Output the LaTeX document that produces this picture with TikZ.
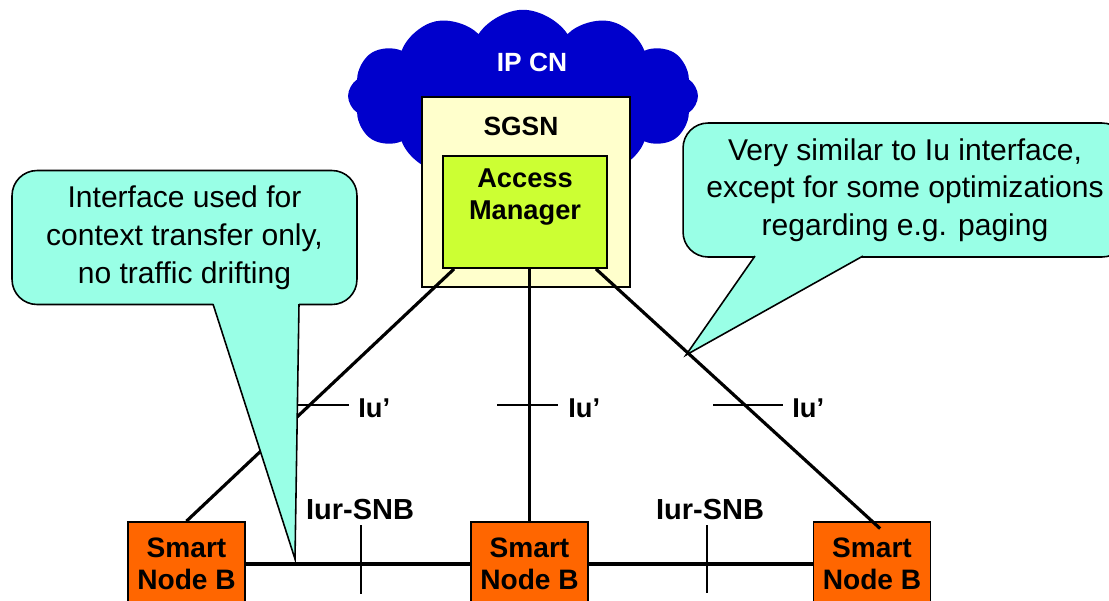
\documentclass[tikz,border=0pt]{standalone}
\usepackage{fontspec}
\setmainfont{Liberation Sans}
\usetikzlibrary{shapes.symbols,calc}
\definecolor{cloudblue}{RGB}{0,0,204}
\definecolor{sgsnyellow}{RGB}{255,255,204}
\definecolor{amgreen}{RGB}{204,255,51}
\definecolor{snborange}{RGB}{255,102,0}
\definecolor{calloutcyan}{RGB}{153,255,230}
\begin{document}
\begin{tikzpicture}[x=0.02cm,y=-0.02cm,
  boxstyle/.style={draw=black,line width=1pt,inner sep=0pt},
  snbbox/.style={boxstyle,fill=snborange,minimum width=2.34cm,minimum height=1.68cm,align=center,
     font=\fontsize{16}{18}\selectfont\bfseries},
  link/.style={line width=1.8pt},
  tickline/.style={line width=0.9pt},
  lbl/.style={font=\fontsize{15.5}{18}\selectfont\bfseries,inner sep=0pt},
  calloutbox/.style={draw=black,line width=0.9pt,fill=calloutcyan,rounded corners=0.5cm,
     minimum height=2.68cm,align=center,inner sep=0pt,font=\fontsize{17.1}{21.5}\selectfont},
  tailfill/.style={fill=calloutcyan},
  tailedge/.style={line width=0.9pt}]
\useasboundingbox (0,0) rectangle (1109,600);
% cloud
\node[cloud,cloud puffs=12,cloud puff arc=115,aspect=2.0,fill=cloudblue,
      minimum width=7cm,minimum height=3.45cm,inner sep=0pt] (cn) at (523,96) {};
\node[text=white,font=\fontsize{15}{18}\selectfont\bfseries] (ipcn) at (532,62) {IP CN};
% SGSN
\node[boxstyle,fill=sgsnyellow,minimum width=4.16cm,minimum height=3.8cm] (sgsn) at (526,192) {};
\node[lbl,font=\fontsize{15}{18}\selectfont\bfseries] (sgsnlbl) at (521,126) {SGSN};
\node[boxstyle,fill=amgreen,minimum width=3.28cm,minimum height=2.24cm] (am) at (525,212) {};
\node[align=center,font=\fontsize{15.5}{18.7}\selectfont\bfseries] (amlbl) at (525,197) {Access\\Manager};
% Smart Node B
\node[snbbox] (snb1) at (186.5,564) {Smart\\Node B};
\node[snbbox] (snb2) at (529.5,564) {Smart\\Node B};
\node[snbbox] (snb3) at (872,564) {Smart\\Node B};
% links
\draw[link] ([xshift=0.24cm]am.south west) -- (snb1.north);
\draw[link] (am.south -| snb2.north) -- (snb2.north);
\draw[link,shorten >=-0.22cm] ([xshift=-0.24cm]am.south east) -- (snb3.north);
\draw[link] (snb1.east) -- (snb2.west);
\draw[link] (snb2.east) -- (snb3.west);
% Iu' labels and ticks
\node[lbl,anchor=west] (iu1) at (358,408) {Iu’};
\node[lbl,anchor=west] (iu2) at (568,408) {Iu’};
\node[lbl,anchor=west] (iu3) at (792,408) {Iu’};
\draw[tickline] (286,405) -- (349,405);
\draw[tickline] (497,405) -- (558,405);
\draw[tickline] (713,405) -- (783,405);
% Iur-SNB
\node[lbl,font=\fontsize{16.5}{18}\selectfont\bfseries] (iur1) at (360,510) {Iur-SNB};
\node[lbl,font=\fontsize{16.5}{18}\selectfont\bfseries] (iur2) at (710,510) {Iur-SNB};
\draw[tickline] (361,525) -- (361,594);
\draw[tickline] (707,525) -- (707,593);
% left callout
\node[calloutbox,minimum width=6.9cm] (c1) at (184.5,237.5)
  {Interface used for\\context transfer only,\\no traffic drifting};
\fill[tailfill] (212.3,301.5) -- (295,559) -- (299,301.5) -- cycle;
\draw[tailedge] (213,304) -- (295,559) -- (299,304);
% right callout
\node[calloutbox,minimum width=8.88cm] (c2) at (905,190)
  {Very similar to Iu interface,\\except for some optimizations\\regarding e.g. paging};
\fill[tailfill] (757,253.5) -- (686,355) -- (867.5,253.5) -- cycle;
\draw[tailedge] (755,256) -- (686,355) -- (863,256);
\end{tikzpicture}
\end{document}
